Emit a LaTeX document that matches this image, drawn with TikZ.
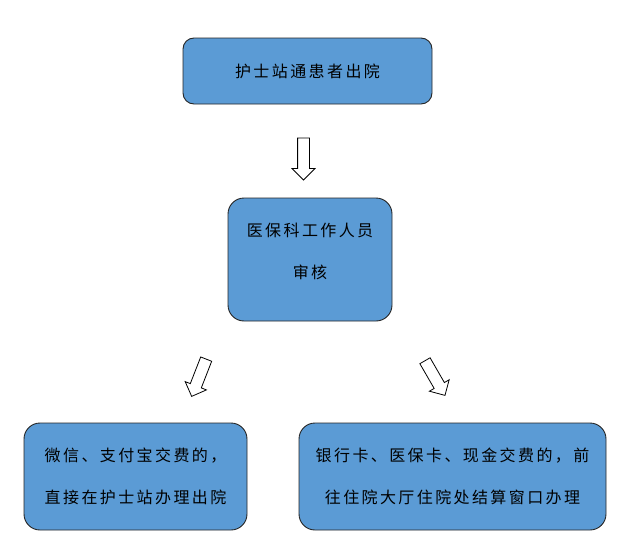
\documentclass[tikz,border=0pt]{standalone}
\usepackage{fontspec}
\newfontfamily\cjk[LetterSpace=15]{Noto Sans CJK SC}
\usetikzlibrary{shapes.arrows}
\definecolor{boxblue}{HTML}{5B9BD5}

\begin{document}
\begin{tikzpicture}[x=1pt,y=-1pt,
 font=\cjk\fontsize{16}{42}\selectfont,
 box/.style={draw=black!85,line width=0.9pt,fill=boxblue,rounded corners=16pt,align=center,inner sep=0pt},
 blockarrow/.style={draw,line width=0.8pt,fill=white,single arrow,inner xsep=0pt,inner ysep=5.5pt,minimum width=22pt,
  single arrow head extend=5.5pt,single arrow head indent=0pt,minimum height=40pt}]
\useasboundingbox (0,0) rectangle (627,554);
\node[box,rounded corners=11pt,minimum width=249pt,minimum height=66pt] (nurse) at (307.5,71)
 {护士站通患者出院};
\node[box,minimum width=164pt,minimum height=123pt,text depth=18pt] (audit) at (310,259.5)
 {医保科工作人员\\审核};
\node[box,minimum width=223pt,minimum height=107pt] (online) at (135.5,476.5)
 {微信、支付宝交费的，\\直接在护士站办理出院};
\node[box,minimum width=307pt,minimum height=107pt] (window) at (452.5,476.5)
 {银行卡、医保卡、现金交费的，前\\往住院大厅住院处结算窗口办理};
% hollow arrows between the steps
\node[blockarrow,minimum height=42pt,rotate=-90] (a1) at (303.5,156) {};
\node[blockarrow,rotate=248.7] (a2) at (200,375) {};
\node[blockarrow,rotate=-60] (a3) at (433.5,375.5) {};
\end{tikzpicture}
\end{document}
